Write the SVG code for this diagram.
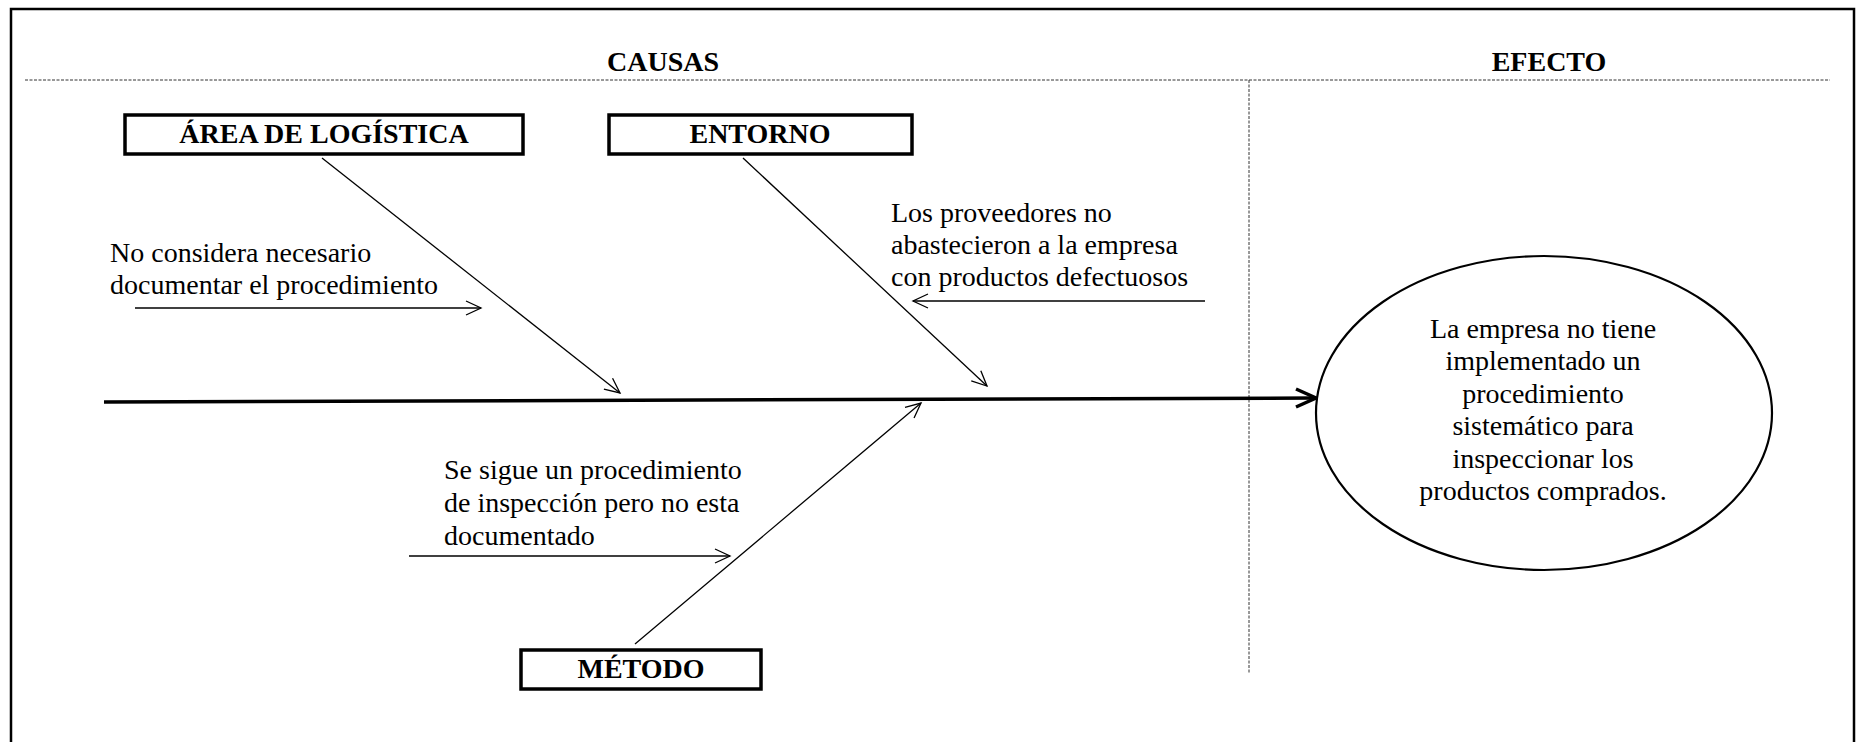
<svg xmlns="http://www.w3.org/2000/svg" width="1858" height="742" viewBox="0 0 1858 742">
<style>
  .t { font-family: "Liberation Serif", "Times New Roman", serif; font-size: 28px; fill: #000; }
  .b { font-family: "Liberation Serif", "Times New Roman", serif; font-size: 28px; font-weight: bold; fill: #000; }
  .box { fill: #fff; stroke: #000; stroke-width: 3.5; }
  .thin { stroke: #000; stroke-width: 1.3; fill: none; }
  .dash { stroke: #333; stroke-width: 1; stroke-dasharray: 3 1.5; fill: none; }
</style>
<defs>
  <marker id="arr" markerUnits="userSpaceOnUse" markerWidth="20" markerHeight="20" refX="16" refY="8" orient="auto">
    <path d="M1,1 L16,8 L1,15" fill="none" stroke="#000" stroke-width="1.3"/>
  </marker>
</defs>
<rect x="0" y="0" width="1858" height="742" fill="#fff"/>
<rect id="frame" x="11" y="9" width="1843" height="760" fill="none" stroke="#000" stroke-width="2.5"/>

<g id="headers">
  <line class="dash" x1="25" y1="80" x2="1830" y2="80"/>
  <line class="dash" x1="1249" y1="80" x2="1249" y2="673"/>
  <text class="b" x="663" y="71" text-anchor="middle">CAUSAS</text>
  <text class="b" x="1549" y="71" text-anchor="middle">EFECTO</text>
</g>

<g id="connectors">
  <line x1="104" y1="402" x2="1314" y2="398" stroke="#000" stroke-width="3.5"/>
  <path d="M1296,389 L1316,398 L1296,407" fill="none" stroke="#000" stroke-width="3.5" stroke-linejoin="miter"/>
  <line class="thin" x1="322" y1="158" x2="620" y2="393" marker-end="url(#arr)"/>
  <line class="thin" x1="743" y1="158" x2="987" y2="386" marker-end="url(#arr)"/>
  <line class="thin" x1="635" y1="644" x2="921" y2="403" marker-end="url(#arr)"/>
  <line class="thin" x1="135" y1="308" x2="481" y2="308" marker-end="url(#arr)"/>
  <line class="thin" x1="1205" y1="301" x2="913" y2="301" marker-end="url(#arr)"/>
  <line class="thin" x1="409" y1="556" x2="730" y2="556" marker-end="url(#arr)"/>
</g>

<g id="area-logistica">
  <rect class="box" x="125" y="115" width="398" height="39"/>
  <text class="b" x="324" y="143" text-anchor="middle">ÁREA DE LOGÍSTICA</text>
</g>
<g id="entorno">
  <rect class="box" x="609" y="115" width="303" height="39"/>
  <text class="b" x="760" y="143" text-anchor="middle">ENTORNO</text>
</g>
<g id="metodo">
  <rect class="box" x="521" y="650" width="240" height="39"/>
  <text class="b" x="641" y="678" text-anchor="middle">MÉTODO</text>
</g>

<g id="causa-logistica">
  <text class="t" x="110" y="262">No considera necesario</text>
  <text class="t" x="110" y="294">documentar el procedimiento</text>
</g>
<g id="causa-entorno">
  <text class="t" x="891" y="222">Los proveedores no</text>
  <text class="t" x="891" y="254">abastecieron a la empresa</text>
  <text class="t" x="891" y="286">con productos defectuosos</text>
</g>
<g id="causa-metodo">
  <text class="t" x="444" y="479">Se sigue un procedimiento</text>
  <text class="t" x="444" y="512">de inspección pero no esta</text>
  <text class="t" x="444" y="545">documentado</text>
</g>

<g id="efecto">
  <ellipse cx="1544" cy="413" rx="228" ry="157" fill="#fff" stroke="#000" stroke-width="2.2"/>
  <text class="t" x="1543" y="338" text-anchor="middle">La empresa no tiene</text>
  <text class="t" x="1543" y="370" text-anchor="middle">implementado un</text>
  <text class="t" x="1543" y="403" text-anchor="middle">procedimiento</text>
  <text class="t" x="1543" y="435" text-anchor="middle">sistemático para</text>
  <text class="t" x="1543" y="468" text-anchor="middle">inspeccionar los</text>
  <text class="t" x="1543" y="500" text-anchor="middle">productos comprados.</text>
</g>
</svg>
